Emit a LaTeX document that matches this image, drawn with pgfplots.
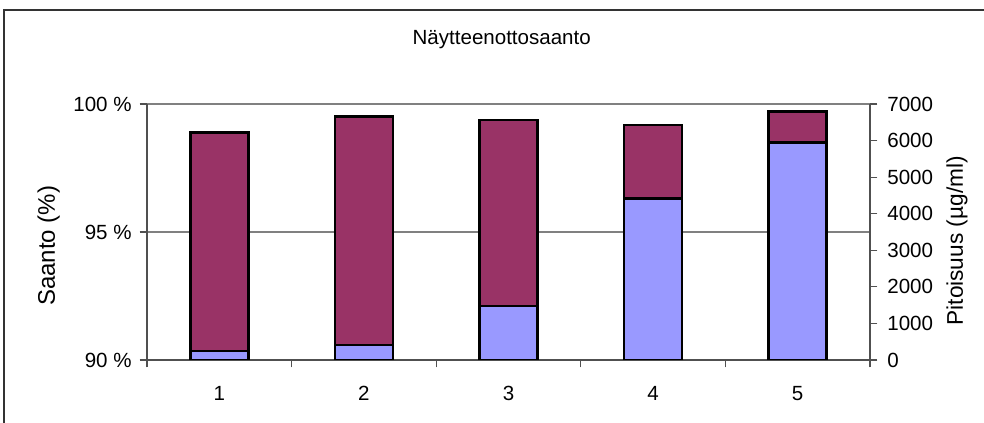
\documentclass[border=0pt]{standalone}
\usepackage{pgfplots}
\pgfplotsset{compat=1.18}
\usepackage{fontspec}
\setmainfont{Liberation Sans}
\definecolor{maroonbar}{HTML}{993366}
\definecolor{bluebar}{HTML}{9999FF}
\definecolor{axisgray}{HTML}{505050}
\definecolor{gridgray}{HTML}{808080}
\newcommand\cf{\fontsize{15.4}{18}\selectfont}
\pgfplotsset{
  common/.style={
    at={(110.25pt,47.25pt)}, anchor=south west,
    scale only axis, width=542.25pt, height=192pt,
    xmin=0.5, xmax=5.5,
    tick align=outside, major tick length=5.5pt,
    tick style={axisgray, line width=0.9pt},
    axis line style={axisgray, line width=0.9pt},
    tick label style={font=\cf},
    /pgf/number format/assume math mode=true,
    /pgf/number format/1000 sep={},
  }
}
\begin{document}
\begin{tikzpicture}
\useasboundingbox (0,0) rectangle (738pt,317.25pt);
\draw[line width=1pt, black!80] (3pt,-2pt) -- (3pt,309.75pt) -- (740pt,309.75pt);
\begin{axis}[
  common,
  ymin=90, ymax=100,
  axis x line*=bottom, axis y line*=left,
  ytick={90,95,100}, yticklabels={90 \%,95 \%,100 \%},
  yticklabel style={anchor=east, xshift=-2.5pt},
  ymajorgrids, grid style={gridgray, line width=1pt},
  xtick={0.5,1.5,2.5,3.5,4.5,5.5}, xticklabels={,,,,,},
  extra x ticks={1,2,3,4,5}, extra x tick labels={1,2,3,4,5},
  extra x tick style={major tick length=0pt, grid=none},
  xticklabel style={yshift=-16pt},
  title={Näytteenottosaanto},
  title style={at={(axis description cs:0.4906,1.222)}, anchor=center, font=\cf},
  ylabel={Saanto (\%)},
  ylabel style={at={(axis description cs:-0.136,0.4465)}, anchor=center, font=\fontsize{18}{20}\selectfont},
]
\addplot[ybar, bar width=43.5pt, bar shift=0pt, fill=maroonbar, draw=black, line width=2pt]
  coordinates {(1,98.88) (2,99.50) (3,99.37) (4,99.18) (5,99.70)};
\end{axis}
\begin{axis}[
  common,
  ymin=0, ymax=7000,
  axis x line=none, axis y line*=right,
  ytick={0,1000,2000,3000,4000,5000,6000,7000},
  yticklabel style={anchor=west, xshift=4pt},
  ylabel={Pitoisuus (µg/ml)},
  ylabel style={at={(axis description cs:1.1203,0.4656)}, anchor=center, font=\fontsize{17}{19}\selectfont},
]
\addplot[ybar, bar width=43.5pt, bar shift=0pt, fill=bluebar, draw=black, line width=2pt]
  coordinates {(1,250) (2,410) (3,1475) (4,4410) (5,5950)};
\end{axis}
\end{tikzpicture}
\end{document}
